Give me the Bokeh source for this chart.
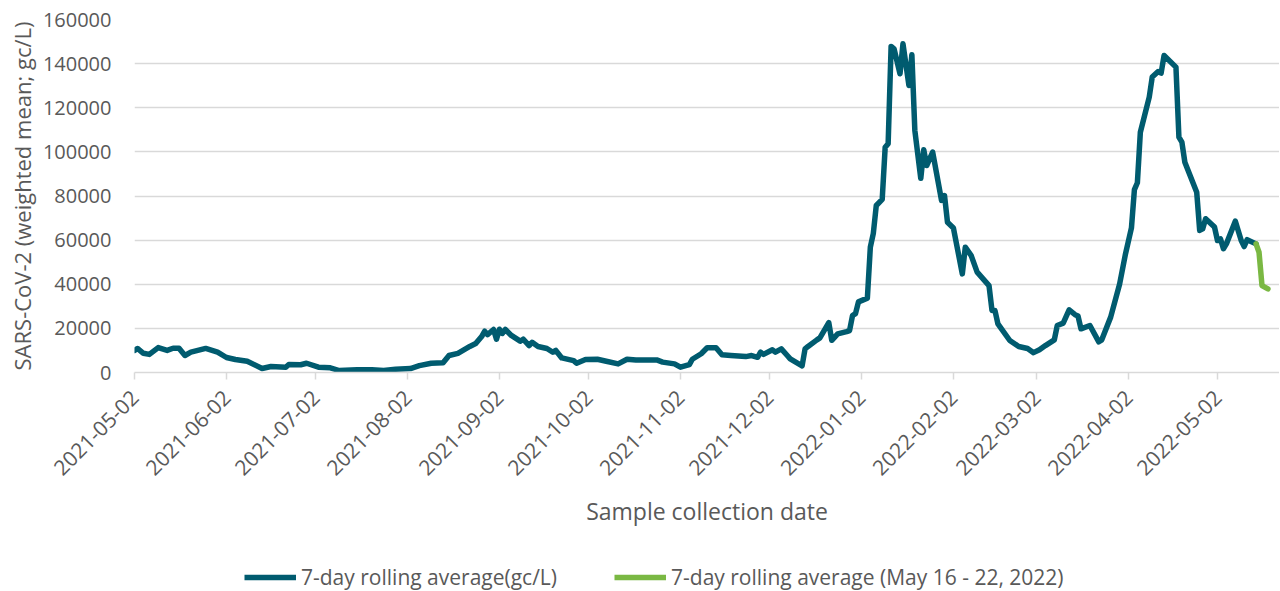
import math
import pandas as pd
from bokeh.plotting import figure
from bokeh.layouts import column
from bokeh.models import (Range1d, FixedTicker, DatetimeTickFormatter, NumeralTickFormatter,
                          Legend, LegendItem, ColumnDataSource)
from bokeh.embed import file_html
from bokeh.resources import INLINE

# ---------------- data ----------------
blue_dates = [
    "2021-05-02", "2021-05-03", "2021-05-05", "2021-05-07", "2021-05-10", "2021-05-13", "2021-05-15",
    "2021-05-17", "2021-05-19", "2021-05-21", "2021-05-26", "2021-05-30", "2021-06-02", "2021-06-05",
    "2021-06-09", "2021-06-14", "2021-06-17", "2021-06-22", "2021-06-23", "2021-06-27", "2021-06-29",
    "2021-07-03", "2021-07-07", "2021-07-10", "2021-07-16", "2021-07-21", "2021-07-25", "2021-07-29",
    "2021-08-03", "2021-08-06", "2021-08-10", "2021-08-14", "2021-08-16", "2021-08-19", "2021-08-23",
    "2021-08-25", "2021-08-27", "2021-08-28", "2021-08-29", "2021-08-31", "2021-09-01", "2021-09-02",
    "2021-09-03", "2021-09-04", "2021-09-06", "2021-09-09", "2021-09-10", "2021-09-12", "2021-09-13",
    "2021-09-15", "2021-09-18", "2021-09-20", "2021-09-21", "2021-09-23", "2021-09-27", "2021-09-28",
    "2021-10-01", "2021-10-05", "2021-10-08", "2021-10-12", "2021-10-15", "2021-10-18", "2021-10-25",
    "2021-10-27", "2021-10-31", "2021-11-02", "2021-11-05", "2021-11-06", "2021-11-09", "2021-11-11",
    "2021-11-14", "2021-11-16", "2021-11-19", "2021-11-24", "2021-11-26", "2021-11-28", "2021-11-29",
    "2021-11-30", "2021-12-03", "2021-12-04", "2021-12-06", "2021-12-08", "2021-12-09", "2021-12-13",
    "2021-12-14", "2021-12-15", "2021-12-18", "2021-12-19", "2021-12-22", "2021-12-23", "2021-12-25",
    "2021-12-28", "2021-12-29", "2021-12-30", "2021-12-31", "2022-01-01", "2022-01-04", "2022-01-05",
    "2022-01-06", "2022-01-07", "2022-01-09", "2022-01-10", "2022-01-11", "2022-01-12", "2022-01-13",
    "2022-01-15", "2022-01-16", "2022-01-18", "2022-01-19", "2022-01-20", "2022-01-22", "2022-01-23",
    "2022-01-24", "2022-01-26", "2022-01-29", "2022-01-30", "2022-01-31", "2022-02-02", "2022-02-05",
    "2022-02-06", "2022-02-08", "2022-02-10", "2022-02-14", "2022-02-15", "2022-02-16", "2022-02-17",
    "2022-02-21", "2022-02-24", "2022-02-27", "2022-03-01", "2022-03-03", "2022-03-05", "2022-03-08",
    "2022-03-09", "2022-03-11", "2022-03-13", "2022-03-15", "2022-03-16", "2022-03-17", "2022-03-20",
    "2022-03-23", "2022-03-24", "2022-03-27", "2022-03-30", "2022-04-01", "2022-04-03", "2022-04-04",
    "2022-04-05", "2022-04-06", "2022-04-09", "2022-04-10", "2022-04-12", "2022-04-13", "2022-04-14",
    "2022-04-18", "2022-04-19", "2022-04-20", "2022-04-21", "2022-04-25", "2022-04-26", "2022-04-27",
    "2022-04-28", "2022-05-01", "2022-05-02", "2022-05-03", "2022-05-04", "2022-05-05", "2022-05-08",
    "2022-05-10", "2022-05-11", "2022-05-12", "2022-05-15",
]
blue_values = [
    10000, 10900, 8700, 8200, 11300, 10000, 11000,
    11000, 7700, 9200, 10900, 9200, 6800, 5900,
    5100, 1800, 2700, 2400, 3600, 3500, 4200,
    2400, 2100, 900, 1200, 1200, 900, 1500,
    1800, 3100, 4200, 4400, 7700, 8700, 11800,
    13100, 16300, 18700, 17200, 19500, 15100, 19600,
    17700, 19500, 16800, 14200, 15100, 12200, 13700,
    11800, 10900, 9200, 10000, 6600, 5400, 4200,
    5900, 6000, 5100, 3900, 6000, 5700, 5700,
    4700, 3900, 2400, 3600, 6000, 8500, 11200,
    11200, 8000, 7700, 7200, 7700, 6900, 9200,
    8200, 10300, 9200, 10700, 7700, 6200, 3000,
    10700, 11800, 14800, 15700, 22600, 14600, 17500,
    18500, 19000, 25800, 26700, 32000, 33700, 56800,
    63000, 75700, 78500, 102100, 103700, 147800, 146700,
    135400, 149000, 130100, 144000, 109700, 88000, 101000,
    93800, 99900, 78000, 80200, 68100, 65500, 44700,
    56800, 53000, 45500, 39400, 28100, 28100, 22000,
    14500, 11800, 10900, 9000, 10300, 12200, 14800,
    21300, 22400, 28400, 26200, 25600, 19800, 21300,
    13900, 14800, 25100, 40000, 53800, 65500, 82900,
    86000, 108900, 124800, 133900, 136400, 135700, 143700,
    138400, 106700, 104400, 95300, 81700, 64400, 65100,
    69700, 65900, 59800, 60600, 56100, 58300, 68600,
    59800, 57100, 60200, 58300,
]
green_dates = ["2022-05-15", "2022-05-16", "2022-05-17", "2022-05-19"]
green_values = [58300, 54500, 39400, 37900]

tick_dates = ["2021-05-02", "2021-06-02", "2021-07-02", "2021-08-02", "2021-09-02", "2021-10-02",
              "2021-11-02", "2021-12-02", "2022-01-02", "2022-02-02", "2022-03-02", "2022-04-02",
              "2022-05-02"]
y_ticks = [0, 20000, 40000, 60000, 80000, 100000, 120000, 140000, 160000]

series_labels = ["7-day rolling average(gc/L)", "7-day rolling average (May 16 - 22, 2022)"]
x_title = "Sample collection date"
y_title = "SARS-CoV-2 (weighted mean; gc/L)"

# ---------------- chart ----------------
def ms(d):
    return pd.Timestamp(d).value / 1e6

DAY = 86400000.0
x_start = ms("2021-05-02")
x_end = x_start + 385.9 * DAY

FONT = "Open Sans"
TXT = "#595959"
BLUE = "#005b6f"
GREEN = "#7ab843"
LW = 5.5

p = figure(frame_width=1145, frame_height=353, x_axis_type="datetime", output_backend="svg",
           toolbar_location=None, x_range=Range1d(x_start, x_end), y_range=Range1d(0, 160000),
           min_border_left=134, min_border_right=0, min_border_top=19, min_border_bottom=185)
p.outline_line_color = None
p.background_fill_color = "white"
p.border_fill_color = "white"

src_b = ColumnDataSource(dict(x=pd.to_datetime(blue_dates), y=blue_values))
src_g = ColumnDataSource(dict(x=pd.to_datetime(green_dates), y=green_values))
p.line("x", "y", source=src_b, line_color=BLUE, line_width=LW, line_join="round", line_cap="round")
p.line("x", "y", source=src_g, line_color=GREEN, line_width=LW, line_join="round", line_cap="round")

# grid
p.xgrid.visible = False
p.ygrid.grid_line_color = "#d9d9d9"
p.ygrid.grid_line_width = 1.5

# y axis
p.yaxis.ticker = FixedTicker(ticks=y_ticks)
p.yaxis.formatter = NumeralTickFormatter(format="0")
p.yaxis.axis_line_color = None
p.yaxis.major_tick_line_color = None
p.yaxis.minor_tick_line_color = None
p.yaxis.major_tick_out = 0
p.yaxis.major_tick_in = 0
p.yaxis.major_label_standoff = 23
p.yaxis.major_label_text_font = FONT
p.yaxis.major_label_text_font_size = "20px"
p.yaxis.major_label_text_color = TXT
p.yaxis.axis_label = y_title
p.yaxis.axis_label_text_font = FONT
p.yaxis.axis_label_text_font_size = "22px"
p.yaxis.axis_label_text_font_style = "normal"
p.yaxis.axis_label_text_color = TXT
p.yaxis.axis_label_standoff = 3

# x axis
p.xaxis.ticker = FixedTicker(ticks=[ms(d) for d in tick_dates])
fmt = "%Y-%m-%d"
p.xaxis.formatter = DatetimeTickFormatter(days=fmt, months=fmt, years=fmt, hours=fmt,
                                          hourmin=fmt, minutes=fmt, minsec=fmt, seconds=fmt,
                                          milliseconds=fmt, microseconds=fmt)
p.xaxis.major_label_orientation = math.pi / 4
p.xaxis.axis_line_color = "#d9d9d9"
p.xaxis.axis_line_width = 1.5
p.xaxis.major_tick_line_color = "#d9d9d9"
p.xaxis.major_tick_line_width = 1.5
p.xaxis.major_tick_out = 7
p.xaxis.major_tick_in = 0
p.xaxis.minor_tick_line_color = None
p.xaxis.major_label_standoff = 14
p.xaxis.major_label_text_font = FONT
p.xaxis.major_label_text_font_size = "21px"
p.xaxis.major_label_text_color = TXT
p.xaxis.axis_label = x_title
p.xaxis.axis_label_text_font = FONT
p.xaxis.axis_label_text_font_size = "23px"
p.xaxis.axis_label_text_font_style = "normal"
p.xaxis.axis_label_text_color = TXT
p.xaxis.axis_label_standoff = 10

# ---------------- legend strip (separate small figure below, frame aligned with the chart) ----------------
lg = figure(width=1280, height=34, output_backend="svg", toolbar_location=None,
            x_axis_location=None, y_axis_location=None,
            min_border_left=0, min_border_right=0, min_border_top=0, min_border_bottom=0,
            x_range=Range1d(0, 1), y_range=Range1d(0, 1))
lg.outline_line_color = None
lg.xgrid.visible = False
lg.ygrid.visible = False
# same series drawn in this strip (outside its visible range) only to feed the legend swatches
lb = lg.line("x", "y", source=src_b, line_color=BLUE, line_width=LW)
lgg = lg.line("x", "y", source=src_g, line_color=GREEN, line_width=LW)

legend = Legend(items=[LegendItem(label=series_labels[0], renderers=[lb]),
                       LegendItem(label=series_labels[1], renderers=[lgg])],
                orientation="horizontal", location=(110, 0),
                glyph_width=52, glyph_height=16, label_standoff=5, spacing=57,
                padding=0, margin=0, border_line_color=None, background_fill_alpha=0,
                label_text_font=FONT, label_text_font_size="21px", label_text_color=TXT,
                label_height=16)
lg.add_layout(legend)

layout = column(p, lg, spacing=0)
open("out.html", "w").write(file_html(layout, INLINE))
